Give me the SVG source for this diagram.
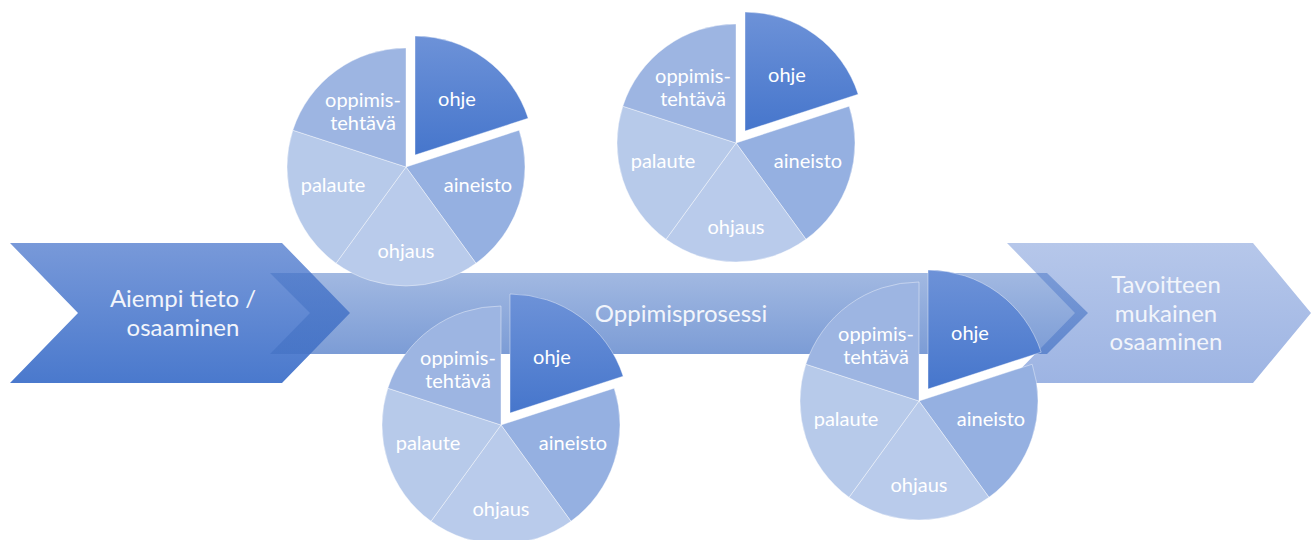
<svg xmlns="http://www.w3.org/2000/svg" width="1311" height="540" viewBox="0 0 1311 540">
<defs>
<linearGradient id="gLeft" x1="0" y1="0" x2="0" y2="1">
<stop offset="0" stop-color="#7899d9"/>
<stop offset="1" stop-color="#4a79cd"/>
</linearGradient>
<linearGradient id="gMid" x1="0" y1="0" x2="0" y2="1">
<stop offset="0" stop-color="#4472c4" stop-opacity="0.5"/>
<stop offset="1" stop-color="#4472c4" stop-opacity="0.7"/>
</linearGradient>
<linearGradient id="gRight" x1="0" y1="0" x2="0" y2="1">
<stop offset="0" stop-color="#b6c7ea"/>
<stop offset="1" stop-color="#9db4e3"/>
</linearGradient>
<linearGradient id="gOhje" x1="0" y1="0" x2="0" y2="1">
<stop offset="0" stop-color="#6d92d8"/>
<stop offset="1" stop-color="#4676cc"/>
</linearGradient>
<g id="pie">
<path class="s ohje" d="M 9 -12 L 9 -131 A 119 119 0 0 1 122.18 -48.77 Z"/>
<path class="s ain" d="M 0 0 L 113.18 -36.77 A 119 119 0 0 1 69.95 96.27 Z"/>
<path class="s ohj" d="M 0 0 L 69.95 96.27 A 119 119 0 0 1 -69.95 96.27 Z"/>
<path class="s pal" d="M 0 0 L -69.95 96.27 A 119 119 0 0 1 -113.18 -36.77 Z"/>
<path class="s opp" d="M 0 0 L -113.18 -36.77 A 119 119 0 0 1 0 -119 Z"/>
<text class="pl" x="51" y="-61">ohje</text>
<text class="pl" x="-43" y="-60">oppimis-</text>
<text class="pl" x="-43" y="-37">tehtävä</text>
<text class="pl" x="72" y="25">aineisto</text>
<text class="pl" x="-73" y="25">palaute</text>
<text class="pl" x="0" y="91">ohjaus</text>
</g>
</defs>
<style>
.s { stroke: #ffffff; stroke-width: 1; stroke-opacity: 0.4; }
.ohje { fill: url(#gOhje); }
.ain { fill: #95b0e1; }
.ohj { fill: #b9cbeb; }
.pal { fill: #b7caea; }
.opp { fill: #9db5e2; }
.pl { font-family: Lato, "Liberation Sans", sans-serif; font-size: 20px; fill: #ffffff; text-anchor: middle; }
.big { font-family: Lato, "Liberation Sans", sans-serif; font-size: 24px; fill: #f2f5fb; text-anchor: middle; }
</style>
<rect width="1311" height="540" fill="#ffffff"/>
<g id="node-aiempi">
<polygon points="10,243 282,243 350,313 282,383 10,383 78,313" fill="url(#gLeft)"/>
<text class="big" x="183" y="307">Aiempi tieto /</text>
<text class="big" x="183" y="336">osaaminen</text>
</g>
<g id="node-tavoitteen">
<polygon points="1007,243 1253,243 1311,313 1253,383 1007,383 1075,313" fill="url(#gRight)"/>
<text class="big" x="1166" y="293">Tavoitteen</text>
<text class="big" x="1166" y="322">mukainen</text>
<text class="big" x="1166" y="350">osaaminen</text>
</g>
<g id="node-oppimisprosessi">
<polygon points="270,273 1047,273 1088,313 1047,354 270,354 310,313" fill="url(#gMid)"/>
<text class="big" x="681" y="322">Oppimisprosessi</text>
</g>
<g id="pie-1"><use href="#pie" transform="translate(406,167)"/></g>
<g id="pie-2"><use href="#pie" transform="translate(736,143)"/></g>
<g id="pie-3"><use href="#pie" transform="translate(501,425)"/></g>
<g id="pie-4"><use href="#pie" transform="translate(919,401)"/></g>
</svg>
